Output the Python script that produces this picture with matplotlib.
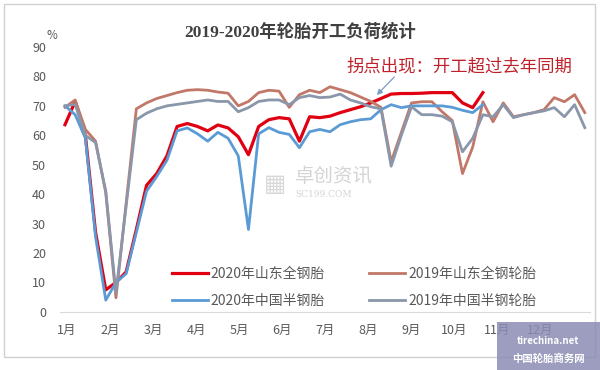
import matplotlib
matplotlib.use('Agg')
import matplotlib.pyplot as plt
from matplotlib.patches import Rectangle

plt.rcParams['font.family'] = ['Noto Sans CJK SC', 'DejaVu Sans']

# weekly operating rate (%)
sd_2020 = [63.6, 71.5, 60, 27, 7.5, 10, 13.6, 28, 43, 47, 53, 63, 64, 63,
           61.5, 63.5, 62.5, 59.5, 53.4, 63, 65.3, 66, 65.6, 58, 66.3, 66,
           66.5, 67.7, 68.7, 69.7, 71, 72.5, 74, 74.2, 74.2, 74.3, 74.5,
           74.5, 74.5, 71, 69.4, 74.5]
sd_2019 = [69.5, 72, 62, 58, 40.5, 4.8, 37, 69, 71, 72.5, 73.5, 74.5, 75.3,
           75.5, 75.3, 74.7, 74.3, 70, 71.5, 74.5, 75.3, 75, 69.5, 73.8,
           75.3, 74.5, 76.5, 75.5, 74.5, 73, 71.5, 69.5, 51, 61, 71, 71.4,
           71.4, 68, 65, 47, 56, 71.4, 64.6, 71, 66.3, 67, 67.7, 68.7, 72.8,
           71.4, 73.8, 67.7]
cn_2020 = [70, 67, 59, 25.5, 4, 10, 13, 27, 41, 46, 51.5, 61.5, 62.5, 60.5,
           58, 61, 59, 53, 28, 60.5, 62.6, 61, 60.3, 55.8, 61.2, 62, 61.2,
           63.6, 64.6, 65.3, 65.6, 68.7, 70.4, 69.4, 70, 70, 70, 70, 69.5,
           68.5, 67.7, 70.4]
cn_2019 = [70, 70.5, 60, 57.5, 41, 6.5, 36, 65.3, 67.5, 69, 70, 70.5, 71,
           71.5, 72, 71.5, 71.5, 68, 69.4, 71.5, 72, 72, 70.4, 72.8, 73.5,
           72.8, 73, 74, 72, 71, 69.7, 69, 49.5, 60, 69.7, 67, 67, 66.5,
           64.6, 54.4, 59, 67, 66.3, 70.4, 66, 67, 67.7, 68.3, 69.4, 66.3,
           70.4, 62.6]
months = ['1月', '2月', '3月', '4月', '5月', '6月', '7月', '8月', '9月',
          '10月', '11月', '12月']
names = ['2020年山东全钢胎', '2019年山东全钢轮胎', '2020年中国半钢胎', '2019年中国半钢轮胎']

fig = plt.figure(figsize=(6, 3.7), dpi=100)
ax = fig.add_axes([0.1, 0.157, 0.883, 0.716])

l1, = ax.plot(range(len(sd_2020)), sd_2020, color='#E00012', lw=2.3, label=names[0])
l2, = ax.plot(range(len(sd_2019)), sd_2019, color='#C27868', lw=2.0, label=names[1])
l3, = ax.plot(range(len(cn_2020)), cn_2020, color='#5B9BD5', lw=2.0, label=names[2])
l4, = ax.plot(range(len(cn_2019)), cn_2019, color='#8A96AA', lw=2.0, label=names[3])

ax.set_xlim(-0.49, 51.49)
ax.set_ylim(0, 90)
ax.set_yticks(range(0, 91, 10))
ax.set_xticks([0.2 + i * 4.22 for i in range(12)])
ax.set_xticklabels(months)
ax.tick_params(axis='both', length=0, labelsize=9, colors='#595959')
ax.tick_params(axis='x', pad=9)
ax.tick_params(axis='y', pad=10)
for s in ['top', 'right', 'left']:
    ax.spines[s].set_visible(False)
ax.spines['bottom'].set_color('#D9D9D9')

fig.text(0.5, 0.913, '2019-2020年轮胎开工负荷统计', ha='center', va='center',
         fontsize=12.5, fontweight='bold', color='#404040',
         family=['Liberation Serif', 'Noto Sans CJK SC'])
fig.text(0.087, 0.905, '%', ha='center', va='center', fontsize=8.5, color='#595959')

# annotation
ax.text(27.6, 83.5, '拐点出现：开工超过去年同期', fontsize=12.5, color='#C0202A',
        va='center', ha='left')
ax.annotate('', xy=(30.4, 73.0), xytext=(32.5, 80.5),
            arrowprops=dict(arrowstyle='-|>', color='#7A9CC6', lw=0.9,
                            mutation_scale=8))

# watermark
ax.text(22.6, 46.0, '卓创资讯', fontsize=14, color='#D4D4D4', ha='left', va='center')
ax.text(22.6, 40.0, 'SC199.COM', fontsize=6.5, color='#D4D4D4', ha='left', va='center',
        family='DejaVu Serif')
ax.text(20.6, 43.5, '▦', fontsize=17, color='#D8D8D8', ha='center', va='center',
        family='DejaVu Sans')

leg = fig.legend(handles=[l1, l3, l2, l4], ncol=2, loc='upper left',
                 bbox_to_anchor=(0.265, 0.312), frameon=False, fontsize=10,
                 handlelength=2.6, handletextpad=0.2, columnspacing=3.2,
                 labelspacing=0.95, labelcolor='#595959')

# outer border
fig.patches.append(Rectangle((0.006, 0.035), 0.985, 0.955, transform=fig.transFigure,
                             fill=False, ec='#D0D0D0', lw=1.0))

# corner logo
fig.patches.append(Rectangle((0.828, 0.0), 0.172, 0.13, transform=fig.transFigure,
                             fc='#8C8CB4', ec='none', alpha=0.85, zorder=5))
fig.text(0.914, 0.078, 'tirechina.net', ha='center', va='center', fontsize=7,
         color='white', style='italic', fontweight='bold', zorder=6)
fig.text(0.914, 0.03, '中国轮胎商务网', ha='center', va='center', fontsize=7.5,
         color='white', fontweight='bold', zorder=6)

fig.savefig('out.png', dpi=100)
